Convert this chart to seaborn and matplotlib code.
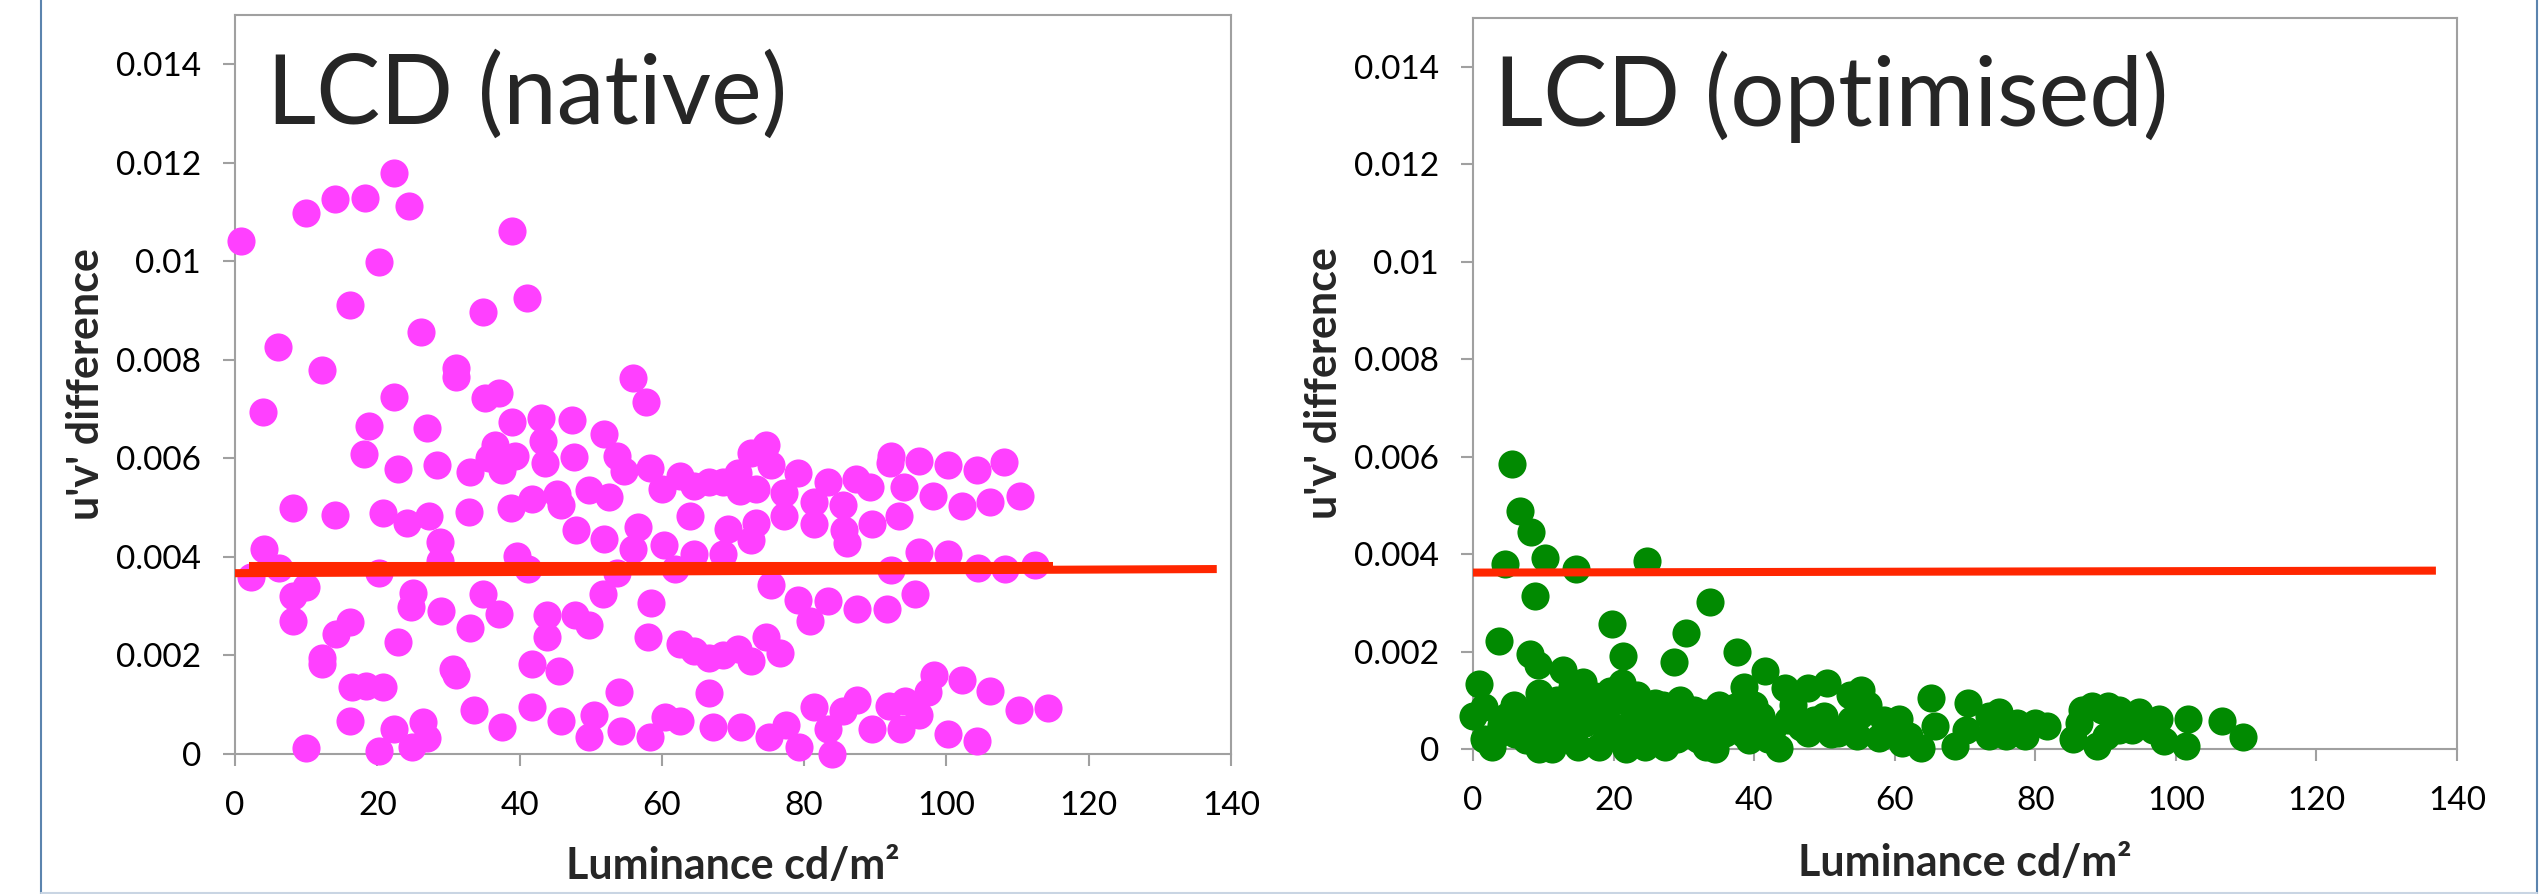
import numpy as np
import pandas as pd
import matplotlib.pyplot as plt
import seaborn as sns
from matplotlib.lines import Line2D

# LCD (native) points: luminance, u'v' difference
native_lum = [0.9, 10.0, 14.0, 18.3, 22.3, 24.4, 39.0, 20.3, 16.2, 6.0, 41.0, 34.9, 26.2, 12.2, 31.0, 31.0,
              4.0, 22.3, 35.1, 37.1, 55.9, 57.8, 18.8, 27.0, 39.0, 43.0, 47.3, 51.8, 43.3, 36.6, 18.2, 22.9,
              28.4, 33.0, 35.7, 37.6, 39.4, 43.6, 47.7, 53.7, 54.7, 58.4, 60.0, 62.6, 64.5, 66.6, 68.6, 70.7,
              71.0, 73.2, 72.6, 74.7, 75.4, 77.2, 79.2, 81.4, 83.4, 85.4, 87.3, 89.3, 92.1, 92.2, 94.1, 96.1,
              98.1, 100.2, 102.2, 104.3, 106.1, 108.1, 110.3,
              8.1, 14.0, 20.8, 24.2, 27.3, 32.9, 38.8, 41.7, 45.3, 45.8, 49.7, 52.6, 47.9, 51.9, 56.6, 56.0,
              60.3, 63.9, 64.5, 68.6, 69.3, 73.2, 72.6, 77.2, 81.4, 85.6, 86.0, 89.5, 93.3, 96.1, 100.2,
              4.1, 2.3, 6.2, 20.3, 28.8, 28.8, 39.6, 41.2, 53.7, 61.8, 92.2, 104.4, 108.2, 112.4,
              8.1, 10.0, 8.1, 25.0, 24.8, 29.0, 34.9, 33.0, 37.1, 43.8, 43.8, 47.8, 49.7, 51.7, 58.5, 58.0,
              75.4, 79.1, 80.8, 83.3, 87.4, 91.6, 95.6, 16.2, 14.2, 22.9,
              12.2, 12.2, 16.5, 18.4, 20.8, 30.7, 31.0, 41.7, 45.5, 62.6, 64.5, 66.6, 68.6, 70.7, 72.6, 74.7,
              76.6, 98.2, 102.2, 106.1, 97.4,
              16.2, 22.3, 26.4, 27.0, 24.9, 20.2, 10.0, 33.6, 37.6, 41.7, 45.8, 50.4, 49.8, 54.0, 54.3, 58.4,
              60.5, 62.6, 66.6, 67.2, 71.1, 75.1, 77.4, 79.3, 81.4, 83.3, 83.9, 85.4, 87.4, 89.6, 91.9, 93.6,
              94.2, 96.2, 100.2, 104.3, 110.2, 114.3]
native_diff = [0.01042, 0.01098, 0.01127, 0.01129, 0.01179, 0.01112, 0.01062, 0.00998, 0.00911, 0.00827,
               0.00925, 0.00898, 0.00857, 0.00780, 0.00783, 0.00766,
               0.00695, 0.00724, 0.00723, 0.00732, 0.00763, 0.00714, 0.00665, 0.00662, 0.00674, 0.00681,
               0.00677, 0.00650, 0.00636, 0.00628, 0.00608, 0.00579,
               0.00587, 0.00572, 0.00601, 0.00576, 0.00605, 0.00591, 0.00602, 0.00605, 0.00575, 0.00581,
               0.00538, 0.00564, 0.00543, 0.00553, 0.00553, 0.00570,
               0.00533, 0.00538, 0.00610, 0.00628, 0.00587, 0.00530, 0.00570, 0.00512, 0.00553, 0.00506,
               0.00558, 0.00541, 0.00590, 0.00605, 0.00541, 0.00595,
               0.00524, 0.00587, 0.00503, 0.00576, 0.00512, 0.00593, 0.00524,
               0.00500, 0.00486, 0.00489, 0.00468, 0.00483, 0.00491, 0.00500, 0.00518, 0.00528, 0.00506,
               0.00535, 0.00521, 0.00454, 0.00437, 0.00460, 0.00416,
               0.00425, 0.00483, 0.00406, 0.00405, 0.00457, 0.00468, 0.00434, 0.00483, 0.00466, 0.00454,
               0.00429, 0.00466, 0.00483, 0.00410, 0.00406,
               0.00416, 0.00360, 0.00377, 0.00368, 0.00431, 0.00391, 0.00402, 0.00376, 0.00368, 0.00376,
               0.00373, 0.00377, 0.00376, 0.00383,
               0.00321, 0.00339, 0.00269, 0.00327, 0.00298, 0.00290, 0.00325, 0.00255, 0.00284, 0.00283,
               0.00237, 0.00283, 0.00261, 0.00324, 0.00306, 0.00237,
               0.00344, 0.00313, 0.00269, 0.00310, 0.00295, 0.00295, 0.00325, 0.00267, 0.00244, 0.00227,
               0.00194, 0.00183, 0.00137, 0.00139, 0.00137, 0.00173, 0.00160, 0.00183, 0.00169, 0.00223,
               0.00209, 0.00194, 0.00200, 0.00214, 0.00188, 0.00237,
               0.00206, 0.00160, 0.00150, 0.00128, 0.00125,
               0.00067, 0.00050, 0.00064, 0.00032, 0.00015, 0.00006, 0.00013, 0.00090, 0.00055, 0.00096,
               0.00067, 0.00079, 0.00035, 0.00125, 0.00047, 0.00035,
               0.00076, 0.00067, 0.00123, 0.00055, 0.00055, 0.00035, 0.00058, 0.00015, 0.00096, 0.00050,
               0.00001, 0.00087, 0.00110, 0.00050, 0.00098, 0.00050,
               0.00107, 0.00079, 0.00040, 0.00027, 0.00090, 0.00094]

# LCD (optimised) points
opt_lum = [5.6, 6.7, 8.2, 4.6, 10.2, 14.7, 24.8, 8.8, 33.7, 19.8, 30.3, 3.7, 21.3, 8.1, 9.3, 28.6, 37.5,
           0.8, 41.5, 12.8, 15.7, 21.2, 38.5, 44.4, 47.7, 50.3, 55.2, 53.6, 56.2, 1.6, 0.0, 2.7, 4.9, 7.2,
           9.4, 9.4, 11.3, 10.8, 12.2, 14.1, 15.0, 17.4, 17.9, 18.8, 20.2, 21.7, 22.6, 24.5, 25.9, 27.3,
           28.3, 29.5, 33.0, 33.2, 34.4, 37.3, 39.2, 41.0, 43.6, 44.8, 46.7, 50.0, 52.0, 53.8, 57.8, 60.0,
           61.1, 63.7, 47.7, 54.7, 39.6, 7.5, 13.1, 16.0, 24.0, 31.1, 35.8,
           65.2, 70.4, 60.6, 65.8, 68.6, 70.1, 73.4, 74.8, 73.4, 75.8, 77.4, 78.6, 80.0, 81.7, 85.3, 86.7,
           88.1, 89.5, 90.3, 91.9, 88.8, 90.0, 93.8, 94.8, 97.6, 98.3, 101.7, 101.4, 106.5, 109.5, 86.2,
           91.9, 96.7, 62.0,
           3.5, 5.8, 11.5, 19.0, 23.3, 26.5, 30.0, 35.0, 38.0, 42.5, 13.5, 19.5, 32.0, 36.5,
           1.5, 4.0, 6.0, 8.5, 10.0, 12.0, 14.0, 16.5, 18.0, 20.5, 22.0, 25.0, 27.0, 29.0, 31.5, 34.0,
           36.0, 38.5, 40.0, 42.0, 45.5, 48.5, 51.0, 55.0, 58.5]
opt_diff = [0.00585, 0.00488, 0.00445, 0.00380, 0.00391, 0.00370, 0.00386, 0.00314, 0.00302, 0.00256,
            0.00239, 0.00221, 0.00191, 0.00195, 0.00173, 0.00179, 0.00200,
            0.00134, 0.00160, 0.00162, 0.00138, 0.00135, 0.00128, 0.00125, 0.00125, 0.00135, 0.00121,
            0.00111, 0.00091, 0.00087, 0.00067, 0.00005, 0.00067, 0.00060,
            0.00115, 0.00000, 0.00000, 0.00087, 0.00040, 0.00128, 0.00005, 0.00108, 0.00005, 0.00087,
            0.00046, 0.00000, 0.00087, 0.00005, 0.00094, 0.00005,
            0.00046, 0.00101, 0.00074, 0.00005, 0.00000, 0.00087, 0.00019, 0.00067, 0.00002, 0.00060,
            0.00046, 0.00067, 0.00033, 0.00060, 0.00023, 0.00053,
            0.00012, 0.00002, 0.00033, 0.00026, 0.00046, 0.00019, 0.00074, 0.00053, 0.00053, 0.00033,
            0.00033,
            0.00104, 0.00095, 0.00061, 0.00047, 0.00006, 0.00040, 0.00068, 0.00075, 0.00027, 0.00027,
            0.00054, 0.00027, 0.00054, 0.00047, 0.00020, 0.00081,
            0.00088, 0.00081, 0.00088, 0.00081, 0.00006, 0.00027, 0.00040, 0.00075, 0.00061, 0.00016,
            0.00061, 0.00006, 0.00057, 0.00025, 0.00054,
            0.00040, 0.00040, 0.00027,
            0.00030, 0.00090, 0.00060, 0.00030, 0.00110, 0.00070, 0.00060, 0.00090, 0.00070, 0.00040,
            0.00100, 0.00120, 0.00020, 0.00040,
            0.00020, 0.00050, 0.00030, 0.00080, 0.00050, 0.00100, 0.00030, 0.00080, 0.00060, 0.00100,
            0.00040, 0.00030, 0.00090, 0.00020, 0.00080, 0.00050,
            0.00070, 0.00030, 0.00090, 0.00020, 0.00090, 0.00060, 0.00030, 0.00070, 0.00060]

# trend lines (end points)
native_trend_x = [0, 138]
native_trend_y = [0.00367, 0.003754]
native_fit_x = [2, 115]
native_fit_y = [0.00381, 0.00381]
opt_trend_x = [0, 137]
opt_trend_y = [0.00362, 0.00366]

x_ticks = [0, 20, 40, 60, 80, 100, 120, 140]
y_ticks = [0, 0.002, 0.004, 0.006, 0.008, 0.01, 0.012, 0.014]
y_tick_labels = ['0', '0.002', '0.004', '0.006', '0.008', '0.01', '0.012', '0.014']

sns.set_style('white')
plt.rcParams['font.family'] = ['Lato', 'DejaVu Sans']

fig = plt.figure(figsize=(25.41, 8.94), dpi=100)
ax1 = fig.add_axes([235 / 2541, 140 / 894, 996 / 2541, 739 / 894])
ax2 = fig.add_axes([1473 / 2541, 145 / 894, 984 / 2541, 731 / 894])

native = pd.DataFrame({'lum': native_lum, 'diff': native_diff})
optimised = pd.DataFrame({'lum': opt_lum, 'diff': opt_diff})

red = '#ff2600'
# excel draws markers over the axis lines, unclipped
sns.scatterplot(data=native, x='lum', y='diff', ax=ax1, color='#ff40ff', s=410, linewidth=0,
                zorder=3, clip_on=False)
ax1.plot(native_fit_x, native_fit_y, color=red, lw=5.8, solid_capstyle='butt', zorder=4)
ax1.plot(native_trend_x, native_trend_y, color=red, lw=5.8, solid_capstyle='butt', zorder=4)

sns.scatterplot(data=optimised, x='lum', y='diff', ax=ax2, color='#018a01', s=410, linewidth=0,
                zorder=3, clip_on=False)
ax2.plot(opt_trend_x, opt_trend_y, color=red, lw=5.8, solid_capstyle='butt', zorder=4)

panels = [(ax1, 'LCD (native)', 0.032, -0.1295, -0.1245),
          (ax2, 'LCD (optimised)', 0.021, -0.1311, -0.1286)]
for ax, title, tx, ylab_x, xlab_y in panels:
    ax.set_xlim(0, 140)
    ax.set_ylim(0, 0.015)
    ax.set_xticks(x_ticks)
    ax.set_xticklabels([str(t) for t in x_ticks])
    ax.set_yticks(y_ticks)
    ax.set_yticklabels(y_tick_labels)
    for sp in ax.spines.values():
        sp.set_color('#a0a0a0')
        sp.set_linewidth(1.5)
        sp.set_visible(True)
    ax.tick_params(axis='both', direction='out', length=8.6, width=1.5, color='#a0a0a0',
                   labelsize=24, labelcolor='black')
    ax.tick_params(axis='y', pad=16, left=True)
    ax.tick_params(axis='x', pad=18, bottom=True)
    ax.set_xlabel('Luminance cd/m²', fontsize=31, fontweight='bold')
    ax.set_ylabel("u'v' difference", fontsize=31, fontweight='bold')
    ax.xaxis.set_label_coords(0.5, xlab_y)
    ax.yaxis.set_label_coords(ylab_x, 0.5)
    ax.text(tx, 0.8525, title, transform=ax.transAxes, fontsize=69, va='baseline', ha='left')
    ax.set_facecolor('white')

# slide frame
fig.add_artist(Line2D([40.5 / 2541, 40.5 / 2541], [0, 1], color='#5b84ae', lw=1.5))
fig.add_artist(Line2D([2536.5 / 2541, 2536.5 / 2541], [0, 1], color='#5b84ae', lw=1.5))
fig.add_artist(Line2D([40.5 / 2541, 2536.5 / 2541], [1.5 / 894, 1.5 / 894], color='#c9d5e3', lw=1.5))

fig.savefig('out.png', dpi=100, facecolor='white')
